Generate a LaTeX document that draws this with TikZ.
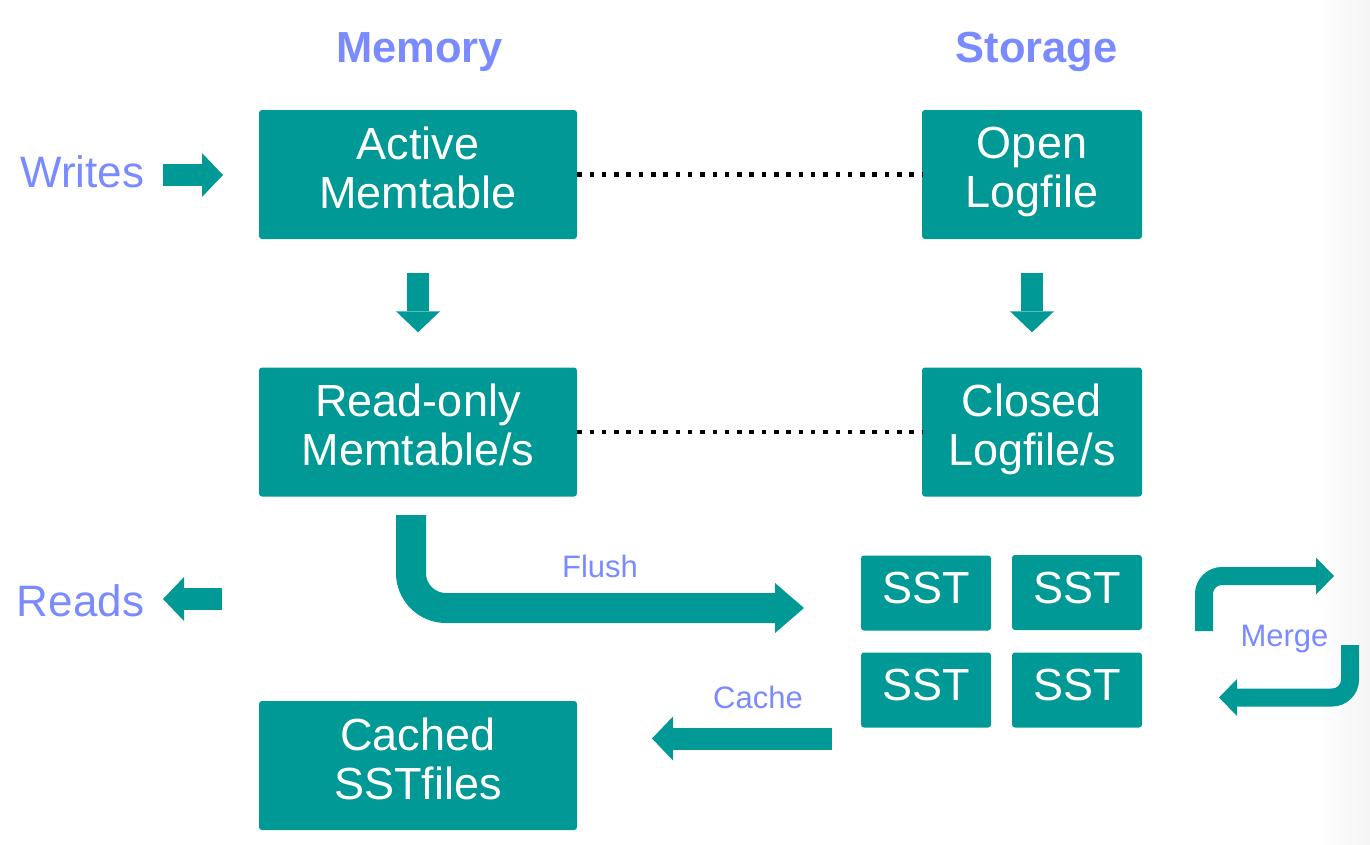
\documentclass[tikz,border=0pt]{standalone}
\usepackage{fontspec}
\setmainfont{Liberation Sans}
\usepackage{tikz}
\usetikzlibrary{arrows.meta}
\definecolor{tealbox}{RGB}{0,153,150}
\definecolor{bluelabel}{RGB}{122,138,255}
\tikzset{box/.style = {fill = tealbox, text = white, rounded corners = 3pt, inner sep = 0, align = center, minimum width = 318pt, minimum height = 129pt, text depth = 14pt, font = \fontsize{45pt}{49pt}\selectfont}}
\tikzset{logbox/.style = {box, minimum width = 220pt}}
\tikzset{sst/.style = {box, minimum width = 130pt, minimum height = 75pt, text depth = 10pt}}
\tikzset{heading/.style = {anchor = base, inner sep = 0, text = bluelabel, font = \fontsize{43.5pt}{50pt}\selectfont\bfseries}}
\tikzset{lab/.style = {anchor = base, inner sep = 0, text = bluelabel, font = \fontsize{44pt}{50pt}\selectfont}}
\tikzset{small/.style = {anchor = base, inner sep = 0, text = bluelabel, font = \fontsize{31pt}{36pt}\selectfont}}
\tikzset{fat/.style = {draw = tealbox, line width = 22pt, -{Triangle[length = 21pt, width = 44pt, line width = 0pt]}}}
\tikzset{flusharrow/.style = {draw = tealbox, line width = 30pt, rounded corners = 35pt, -{Triangle[length = 29pt, width = 50pt, line width = 0pt]}}}
\tikzset{mergearrow/.style = {draw = tealbox, line width = 18pt, rounded corners = 18pt, -{Triangle[length = 18pt, width = 37pt, line width = 0pt]}}}
\tikzset{dots/.style = {draw = black, line width = 4.5pt, dash pattern = on 4.5pt off 7.8pt}}

\begin{document}
\begin{tikzpicture}[x=1pt, y=-1pt]
          \useasboundingbox (0, 0) rectangle (1370, 844);
          \shade [left color = white, right color = black!4] (1318, 0) rectangle (1370, 844);

          \node [heading] (memory) at (419.5, 62.7) {Memory};
          \node [heading] (storage) at (1036.5, 62.7) {Storage};

          \node [box] (active) at (418, 174.5) {Active\\Memtable};
          \node [box] (readonly) at (418, 432) {Read-only\\Memtable/s};
          \node [box] (cached) at (418, 765.5) {Cached\\SSTfiles};

          \node [logbox] (open) at (1032, 174.5) {Open\\Logfile};
          \node [logbox] (closed) at (1032, 432) {Closed\\Logfile/s};

          \node [sst] (sst1) at (926, 593) {SST};
          \node [sst] (sst2) at (1077, 592.5) {SST};
          \node [sst] (sst3) at (926, 690) {SST};
          \node [sst] (sst4) at (1077, 690) {SST};

          \node [lab] (writes) at (82.5, 187) {Writes};
          \node [lab] (reads) at (80.5, 616) {Reads};
          \node [small] (flush) at (600, 577.3) {Flush};
          \node [small] (cache) at (758, 708.3) {Cache};
          \node [small] (merge) at (1284.5, 646.5) {Merge};

          \draw [dots] (active) -- (open);
          \draw [dots] (readonly) -- (closed);

          \draw [fat, shorten < = 34pt, shorten > = 35pt] (active) -- (readonly);
          \draw [fat, shorten < = 34pt, shorten > = 35pt] (open) -- (closed);

          \coordinate (w0) at (163, 175);
          \coordinate (w1) at (223, 175);
          \draw [fat] (w0) -- (w1);

          \coordinate (r0) at (222, 599);
          \coordinate (r1) at (163, 599);
          \draw [fat] (r0) -- (r1);

          \coordinate (c0) at (832, 738.5);
          \coordinate (c1) at (652, 738.5);
          \draw [fat] (c0) -- (c1);

          \coordinate (f0) at (411, 515);
          \coordinate (f1) at (804, 608);
          \draw [flusharrow] (f0) |- (f1);

          \coordinate (m0) at (1204, 631);
          \coordinate (m1) at (1334, 576);
          \draw [mergearrow] (m0) |- (m1);

          \coordinate (m2) at (1350, 645);
          \coordinate (m3) at (1219, 697.5);
          \draw [mergearrow] (m2) |- (m3);
        \end{tikzpicture}
\end{document}
